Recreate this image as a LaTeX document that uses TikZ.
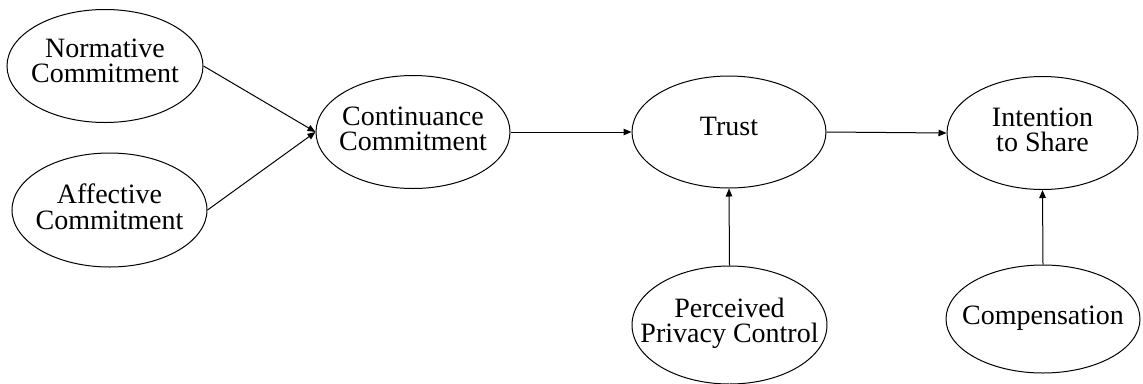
\documentclass[tikz,border=0pt]{standalone}
\usepackage{fontspec}
\setmainfont{Liberation Serif}
\usetikzlibrary{shapes.geometric,arrows.meta}

\tikzset{
  construct/.style={draw=black, line width=1bp, ellipse, inner sep=0pt},
  caption/.style={align=center, inner sep=0pt,
    font=\fontsize{28bp}{25.5bp}\selectfont},
  path/.style={draw=black, line width=1bp, -{Triangle[length=8bp,width=6.5bp]}}
}

\begin{document}
\begin{tikzpicture}[x=1bp, y=-1bp]
  \useasboundingbox (0,0) rectangle (1143,383);

  % constructs (outline sized independently of the text)
  \node[construct, minimum width=196bp, minimum height=113bp] (norm) at (105,66) {};
  \node[construct, minimum width=195bp, minimum height=114bp] (aff) at (109.5,210) {};
  \node[construct, minimum width=194bp, minimum height=113bp] (cont) at (413,132) {};
  \node[construct, minimum width=194bp, minimum height=112bp] (trust) at (729,132) {};
  \node[construct, minimum width=191bp, minimum height=113bp] (intent) at (1042.5,133) {};
  \node[construct, minimum width=195bp, minimum height=118bp] (ppc) at (729.5,325) {};
  \node[construct, minimum width=194bp, minimum height=108bp] (comp) at (1043,319) {};

  % construct names
  \node[caption] (normT) at ([yshift=5bp]norm.center) {Normative\\Commitment};
  \node[caption] (affT) at ([yshift=3bp]aff.center) {Affective\\Commitment};
  \node[caption] (contT) at ([yshift=3bp]cont.center) {Continuance\\Commitment};
  \node[caption] (trustT) at ([yshift=6bp]trust.center) {Trust};
  \node[caption] (intentT) at ([yshift=3bp]intent.center) {Intention\\to Share};
  \node[caption] (ppcT) at ([yshift=1.5bp]ppc.center) {Perceived\\Privacy Control};
  \node[caption] (compT) at ([yshift=1bp]comp.center) {Compensation};

  % hypothesised paths
  \draw[path] (norm.east) -- (cont.west);
  \draw[path] (aff.east) -- (cont.west);
  \draw[path] (cont.east) -- (trust.west);
  \draw[path] (trust.east) -- (intent.west);
  \draw[path] (ppc.north) -- (trust.south);
  \draw[path] (comp.north) -- (intent.south);
\end{tikzpicture}
\end{document}
